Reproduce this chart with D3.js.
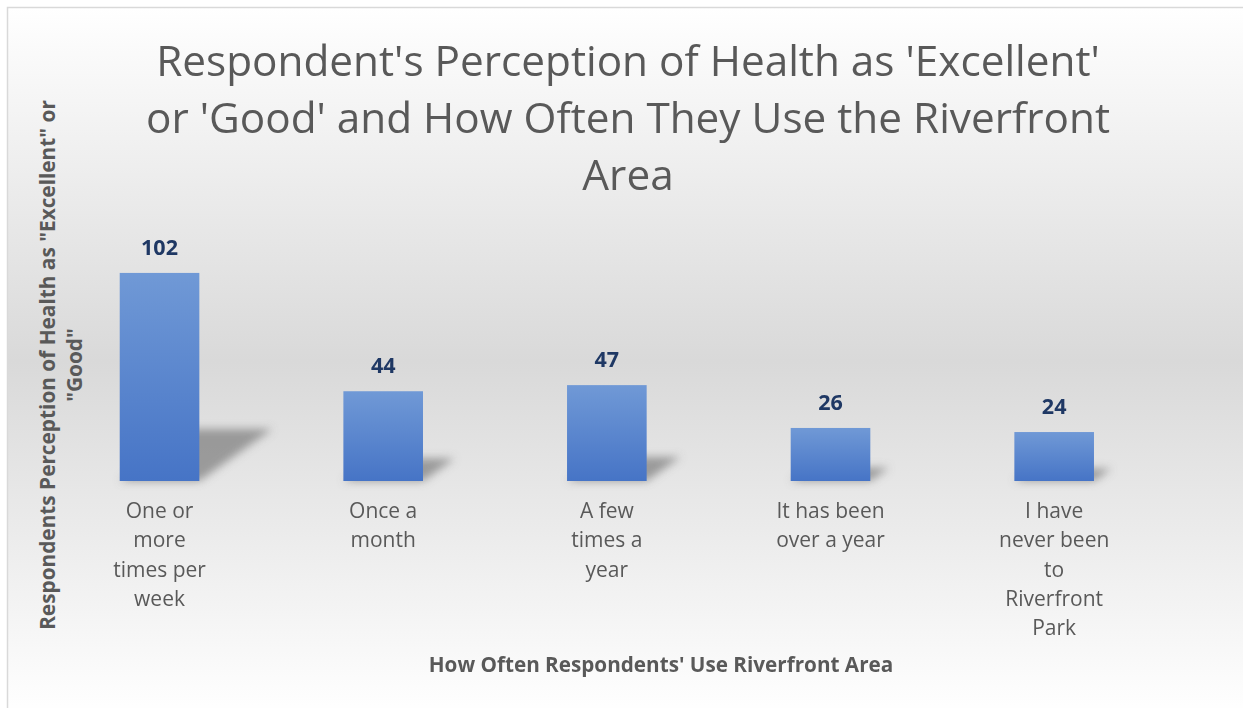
<!DOCTYPE html>
<html>
<head>
<meta charset="utf-8">
<script src="https://cdn.jsdelivr.net/npm/d3@7"></script>
<style>
html,body{margin:0;padding:0;background:#fff;}
svg{display:block;}
</style>
</head>
<body>
<svg id="chart" width="1243" height="708"></svg>
<script>
const categories = [
  "One or\nmore\ntimes per\nweek",
  "Once a\nmonth",
  "A few\ntimes a\nyear",
  "It has been\nover a year",
  "I have\nnever been\nto\nRiverfront\nPark"
];
const values = [102, 44, 47, 26, 24];
const titleLines = [
  "Respondent's Perception of Health as 'Excellent'",
  "or 'Good' and How Often They Use the Riverfront",
  "Area"
];
const yTitleLines = ["Respondents Perception of Health as \"Excellent\" or", "\"Good\""];
const xTitle = "How Often Respondents' Use Riverfront Area";

const W = 1243, H = 708;
const FONT = "'Open Sans', Lato, sans-serif";
const svg = d3.select("#chart");
const defs = svg.append("defs");

const bg = defs.append("linearGradient").attr("id","bg").attr("x1",0).attr("y1",0).attr("x2",0).attr("y2",1);
bg.append("stop").attr("offset","0%").attr("stop-color","#ffffff");
bg.append("stop").attr("offset","50%").attr("stop-color","#d9d9d9");
bg.append("stop").attr("offset","100%").attr("stop-color","#ffffff");

const barG = defs.append("linearGradient").attr("id","barGrad").attr("x1",0).attr("y1",0).attr("x2",0).attr("y2",1);
barG.append("stop").attr("offset","0%").attr("stop-color","#7099d6");
barG.append("stop").attr("offset","100%").attr("stop-color","#4674c6");

const blur = defs.append("filter").attr("id","shadowBlur").attr("x","-50%").attr("y","-50%").attr("width","200%").attr("height","200%");
blur.append("feGaussianBlur").attr("stdDeviation",4.5);

svg.append("rect").attr("x",7.5).attr("y",7.5).attr("width",W).attr("height",H)
  .attr("fill","url(#bg)").attr("stroke","#d9d9d9").attr("stroke-width",1.5);

const baseY = 481;
const y = d3.scaleLinear().domain([0, 120]).range([baseY, baseY - 120*2.04]);
const x = d3.scaleBand().domain(d3.range(categories.length)).range([47.7, 1166]).paddingInner(0.644).paddingOuter(0.322);

// shadows
const k = 1.4, sf = 0.25;
svg.append("g").attr("filter","url(#shadowBlur)").selectAll("path").data(values).join("path")
  .attr("d",(d,i)=>{
    const x0 = x(i), w = x.bandwidth(), h = y(0)-y(d), hs = h*sf;
    return `M${x0},${baseY} L${x0+w},${baseY} L${x0+w+k*hs},${baseY-hs} L${x0+k*hs},${baseY-hs} Z`;
  })
  .attr("fill","#7a7a7a").attr("opacity",0.7);

svg.append("g").selectAll("rect").data(values).join("rect")
  .attr("x",(d,i)=>x(i)).attr("width",x.bandwidth())
  .attr("y",d=>y(d)).attr("height",d=>y(0)-y(d))
  .attr("fill","url(#barGrad)");

svg.append("g").selectAll("text").data(values).join("text")
  .attr("x",(d,i)=>x(i)+x.bandwidth()/2).attr("y",d=>y(d)-18)
  .attr("text-anchor","middle").attr("font-family",FONT).attr("font-weight","bold")
  .attr("font-size",21.5).attr("fill","#1f3864").text(d=>d);

// category labels
const cat = svg.append("g");
categories.forEach((c,i)=>{
  const t = cat.append("text").attr("text-anchor","middle").attr("font-family",FONT)
    .attr("font-size",21).attr("fill","#595959");
  c.split("\n").forEach((ln,j)=>{
    t.append("tspan").attr("x",x(i)+x.bandwidth()/2).attr("y",518+j*29.3).text(ln);
  });
});

// title
const tt = svg.append("text").attr("text-anchor","middle").attr("font-family",FONT)
  .attr("font-size",42.3).attr("fill","#595959");
titleLines.forEach((ln,j)=>{
  tt.append("tspan").attr("x",628).attr("y",76+j*57).text(ln);
});

// x title
svg.append("text").attr("x",661).attr("y",672).attr("text-anchor","middle")
  .attr("font-family",FONT).attr("font-weight","bold").attr("font-size",20.7).attr("fill","#595959").text(xTitle);

// y title
const yt = svg.append("text").attr("transform","translate(0,365) rotate(-90)").attr("text-anchor","middle")
  .attr("font-family",FONT).attr("font-weight","bold").attr("font-size",20.8).attr("fill","#595959");
yTitleLines.forEach((ln,j)=>{
  yt.append("tspan").attr("x",0).attr("y",54.5+j*27).text(ln);
});
</script>
</body>
</html>
